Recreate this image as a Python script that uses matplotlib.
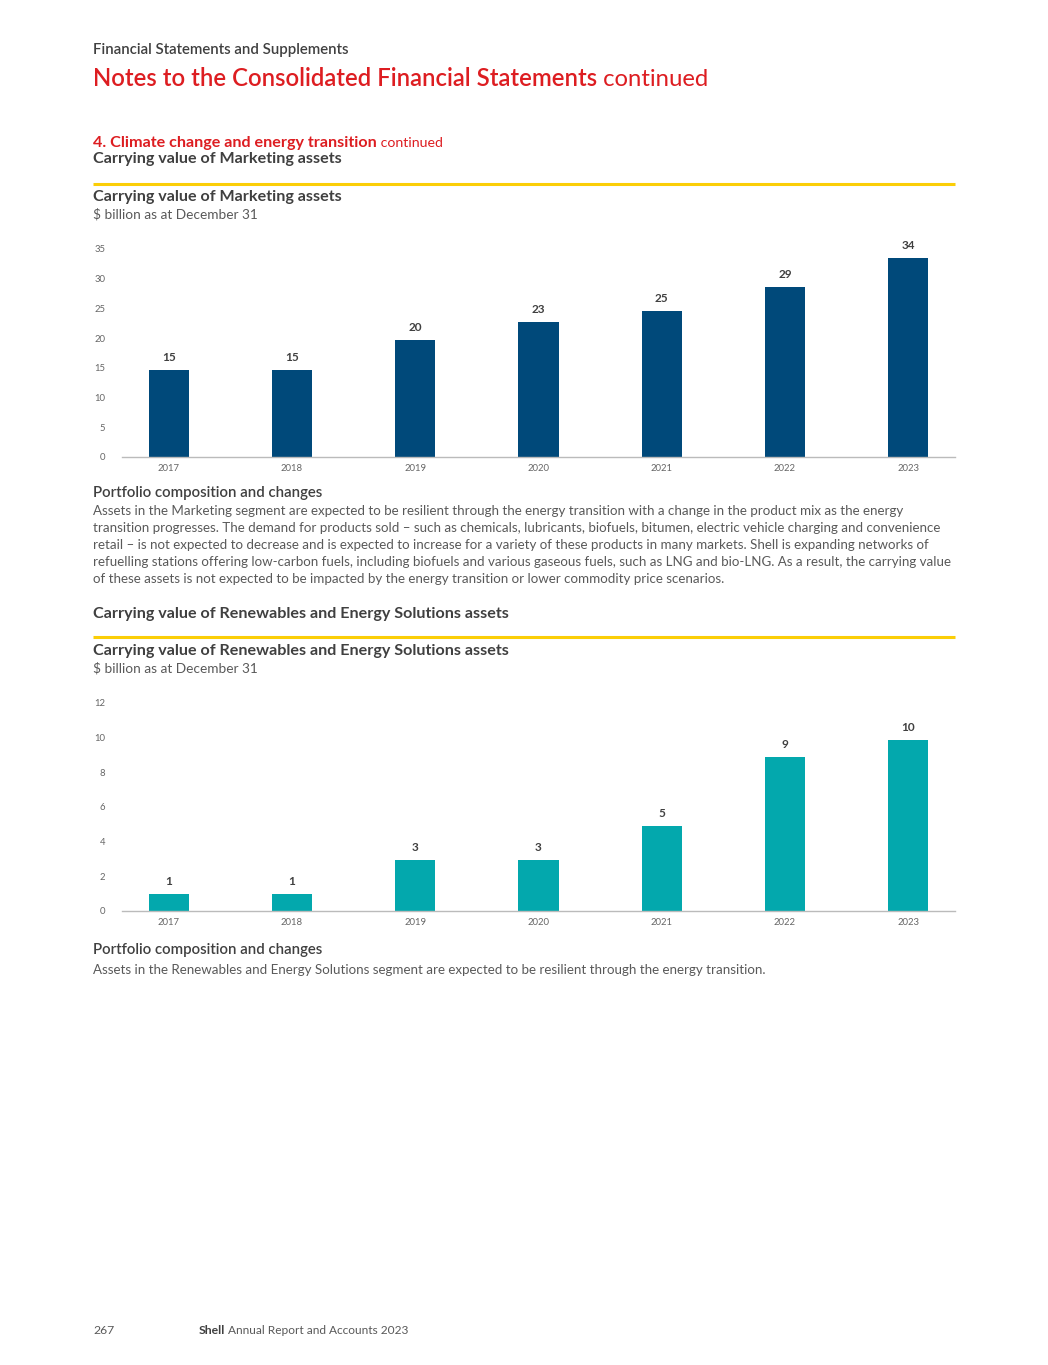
import matplotlib.pyplot as plt

# data
years = ['2017', '2018', '2019', '2020', '2021', '2022', '2023']
marketing_values = [14.6, 14.6, 19.7, 22.7, 24.6, 28.6, 33.5]
marketing_labels = ['15', '15', '20', '23', '25', '29', '34']
marketing_ticks = [0, 5, 10, 15, 20, 25, 30, 35]
renewables_values = [0.98, 0.98, 2.94, 2.94, 4.9, 8.9, 9.87]
renewables_labels = ['1', '1', '3', '3', '5', '9', '10']
renewables_ticks = [0, 2, 4, 6, 8, 10, 12]

marketing_body = [
    "Assets in the Marketing segment are expected to be resilient through the energy transition with a change in the product mix as the energy",
    "transition progresses. The demand for products sold \u2013 such as chemicals, lubricants, biofuels, bitumen, electric vehicle charging and convenience",
    "retail \u2013 is not expected to decrease and is expected to increase for a variety of these products in many markets. Shell is expanding networks of",
    "refuelling stations offering low-carbon fuels, including biofuels and various gaseous fuels, such as LNG and bio-LNG. As a result, the carrying value",
    "of these assets is not expected to be impacted by the energy transition or lower commodity price scenarios.",
]
renewables_body = "Assets in the Renewables and Energy Solutions segment are expected to be resilient through the energy transition."

W, H = 1048, 1365
RED = '#DD1D21'
DARK = '#404040'
GREY = '#595959'
YELLOW = '#FBCE07'
NAVY = '#00497A'
TEAL = '#03A8AD'

plt.rcParams['font.family'] = ['Lato', 'DejaVu Sans']

fig = plt.figure(figsize=(W / 100, H / 100), dpi=100)
page = fig.add_axes([0, 0, 1, 1])
page.set_xlim(0, W)
page.set_ylim(H, 0)
page.axis('off')

L = 93
HEAD = dict(fontsize=11.6, fontweight='bold', va='center')
SEMI = dict(fontsize=10.8, fontweight='semibold', color=DARK, va='center')

page.text(L, 50, 'Financial Statements and Supplements', **SEMI)
t = page.text(L, 79, 'Notes to the Consolidated Financial Statements', fontsize=17.2,
              color=RED, fontweight='semibold', va='center')
page.annotate(' continued', xy=(1, 0.5), xycoords=t, va='center', fontsize=17.2, color=RED)

t = page.text(L, 143, '4. Climate change and energy transition', color=RED, **HEAD)
page.annotate(' continued', xy=(1, 0.5), xycoords=t, va='center', fontsize=10.2, color=RED)
page.text(L, 159, 'Carrying value of Marketing assets', color=DARK, **HEAD)
page.plot([L, 955], [184, 184], color=YELLOW, lw=2.2, solid_capstyle='butt')
page.text(L, 197, 'Carrying value of Marketing assets', color=DARK, **HEAD)
page.text(L, 214, '$ billion as at December 31', fontsize=9.8, color=GREY, va='center')

page.text(L, 493, 'Portfolio composition and changes', **SEMI)
for i, line in enumerate(marketing_body):
    page.text(L, 511 + i * 17, line, fontsize=9.6, color=GREY, va='center')

page.text(L, 614, 'Carrying value of Renewables and Energy Solutions assets', color=DARK, **HEAD)
page.plot([L, 955], [637, 637], color=YELLOW, lw=2.2, solid_capstyle='butt')
page.text(L, 651, 'Carrying value of Renewables and Energy Solutions assets', color=DARK, **HEAD)
page.text(L, 668, '$ billion as at December 31', fontsize=9.8, color=GREY, va='center')

page.text(L, 950, 'Portfolio composition and changes', **SEMI)
page.text(L, 970, renewables_body, fontsize=9.6, color=GREY, va='center')

page.text(L, 1330, '267', fontsize=8.8, color=GREY, va='center')
t = page.text(199, 1330, 'Shell', fontsize=8.8, color=DARK, fontweight='bold', va='center')
page.annotate(' Annual Report and Accounts 2023', xy=(1, 0.5), xycoords=t, va='center',
              fontsize=8.6, color=GREY)


def bar_chart(top_px, bottom_px, values, labels, ticks, color):
    x0, x1 = 122, 955
    ax = fig.add_axes([x0 / W, 1 - bottom_px / H, (x1 - x0) / W, (bottom_px - top_px) / H])
    pos = list(range(len(years)))
    bars = ax.bar(pos, values, width=0.325, color=color)
    ax.bar_label(bars, labels=labels, padding=5, fontsize=8.5, fontweight='bold', color=DARK)
    ax.set_xlim(-0.38, 6.38)
    ax.set_ylim(ticks[0], ticks[-1])
    ax.set_xticks(pos)
    ax.set_xticklabels(years)
    ax.set_yticks(ticks)
    ax.tick_params(length=0, labelsize=6.8, labelcolor='#666666')
    ax.tick_params(axis='y', pad=12)
    ax.tick_params(axis='x', pad=5)
    for s in ['top', 'right', 'left']:
        ax.spines[s].set_visible(False)
    ax.spines['bottom'].set_color('#BBBBBB')
    ax.spines['bottom'].set_linewidth(1)
    ax.patch.set_alpha(0)
    return ax


bar_chart(249, 457, marketing_values, marketing_labels, marketing_ticks, NAVY)
bar_chart(703, 911, renewables_values, renewables_labels, renewables_ticks, TEAL)

fig.savefig('out.png', dpi=100)
